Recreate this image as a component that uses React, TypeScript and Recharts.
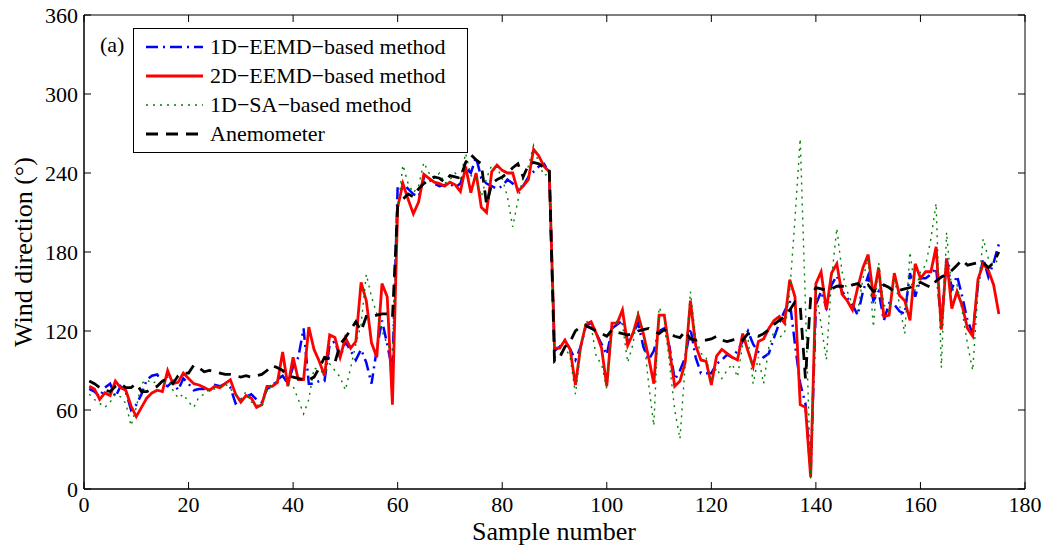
import { LineChart, Line, XAxis, YAxis, Legend, Label, ReferenceArea } from "recharts";

// sample index 1..175
const samples = Array.from({ length: 175 }, (_, i) => i + 1);

const eemd1d = [
  76, 74, 70, 77, 80, 70, 78, 74, 60, 64,
  72, 83, 86, 87, 80, 78, 82, 75, 84, 80,
  75, 76, 76, 75, 79, 78, 80, 77, 65, 68,
  70, 72, 68, 66, 76, 78, 83, 86, 80, 93,
  100, 122, 80, 80, 82, 82, 110, 112, 100, 112,
  105, 98, 106, 96, 80, 106, 128, 110, 90, 230,
  232, 228, 224, 222, 236, 235, 232, 230, 231, 232,
  229, 232, 244, 240, 252, 236, 232, 230, 228, 230,
  235, 232, 228, 230, 237, 241, 245, 247, 240, 105,
  108, 113, 106, 98, 108, 124, 126, 118, 110, 102,
  122, 125, 128, 113, 118, 126, 108, 98, 105, 120,
  122, 108, 83, 90, 100, 122, 100, 88, 88, 88,
  95, 98, 102, 100, 105, 112, 120, 110, 104, 100,
  103, 115, 126, 135, 143, 110, 80, 65, 12, 140,
  150, 138, 155, 162, 150, 145, 140, 132, 150, 162,
  143, 150, 128, 141, 140, 135, 133, 164, 146, 160,
  160, 163, 168, 125, 175, 152, 162, 146, 128, 118,
  155, 175, 161, 172, 186,
];

const eemd2d = [
  78, 76, 68, 73, 71, 82, 77, 75, 63, 55,
  62, 69, 73, 75, 74, 90, 80, 81, 88, 84,
  80, 79, 77, 75, 78, 77, 80, 83, 72, 66,
  71, 69, 62, 64, 78, 78, 81, 104, 78, 100,
  83, 83, 123, 106, 97, 86, 117, 115, 100, 115,
  107, 112, 157, 143, 111, 100, 156, 146, 64, 214,
  232, 220, 209, 218, 239, 236, 233, 232, 230, 233,
  231, 226, 245, 225, 240, 214, 210, 241, 246, 242,
  240, 240, 226, 230, 235, 258, 253, 245, 241, 107,
  107, 113, 106, 79, 108, 125, 127, 118, 107, 78,
  126, 126, 136, 109, 118, 132, 118, 100, 80, 132,
  132, 105, 78, 82, 96, 143, 109, 98, 97, 79,
  101, 106, 103, 100, 98, 118, 105, 93, 112, 114,
  122, 128, 131, 126, 159, 146, 64, 62, 9, 156,
  165, 136, 164, 171, 148, 143, 136, 153, 168, 178,
  146, 168, 131, 132, 164, 147, 143, 128, 171, 160,
  165, 165, 184, 121, 175, 137, 150, 139, 122, 116,
  159, 171, 166, 155, 133,
];

const sa1d = [
  72, 68, 65, 62, 66, 72, 70, 65, 48, 62,
  80, 83, 80, 82, 78, 85, 75, 69, 72, 66,
  62, 70, 72, 76, 76, 78, 80, 76, 72, 68,
  74, 66, 64, 62, 75, 80, 82, 90, 80, 78,
  68, 57, 68, 92, 90, 88, 95, 90, 85, 75,
  92, 110, 125, 163, 146, 133, 120, 110, 105, 212,
  246, 232, 225, 230, 248, 240, 236, 240, 232, 235,
  240, 236, 255, 238, 237, 222, 236, 246, 244, 236,
  222, 199, 219, 237, 245, 261, 247, 238, 240, 100,
  102, 108, 100, 72, 105, 128, 124, 100, 95, 76,
  120, 128, 125, 96, 110, 135, 118, 80, 48, 138,
  130, 95, 60, 38, 95, 150, 115, 103, 100, 82,
  92, 84, 90, 95, 85, 110, 115, 80, 100, 80,
  108, 120, 115, 118, 150, 205, 266, 140, 8, 150,
  125, 98, 160, 198, 165, 150, 140, 135, 160, 175,
  123, 172, 140, 135, 160, 140, 118, 180, 150, 165,
  170, 190, 217, 92, 195, 150, 155, 135, 110, 90,
  150, 190, 175, 170, 175,
];

const anemometer = [
  82, 80, 77, 75, 74, 78, 80, 77, 77, 80,
  74, 74, 76, 78, 82, 84, 80, 86, 88, 88,
  94, 92, 89, 90, 89, 88, 87, 87, 86, 85,
  86, 85, 86, 87, 90, 94, 92, 90, 86, 85,
  84, 83, 83, 85, 92, 100, 99, 96, 110, 115,
  121, 127, 120, 131, 131, 132, 133, 133, 130, 215,
  220, 224, 222, 228, 232, 235, 237, 236, 233, 238,
  237, 236, 248, 254, 250, 247, 216, 232, 235, 237,
  240, 244, 247, 237, 246, 248, 247, 244, 243, 97,
  100, 108, 112, 120, 123, 124, 122, 120, 118, 116,
  121, 119, 118, 117, 118, 120, 121, 122, 120, 118,
  121, 118, 116, 115, 120, 114, 113, 113, 113, 114,
  116, 113, 112, 113, 115, 113, 118, 117, 116, 118,
  121, 125, 128, 131, 136, 142, 139, 84, 145, 153,
  152, 151, 152, 154, 154, 153, 155, 156, 152, 155,
  150, 152, 155, 153, 150, 151, 152, 153, 155, 157,
  155, 153, 158, 161, 163, 166, 170, 174, 170, 171,
  172, 172, 168, 172, 180,
];

const xTicks = [0, 20, 40, 60, 80, 100, 120, 140, 160, 180];
const yTicks = [0, 60, 120, 180, 240, 300, 360];

const data = samples.map((s, i) => ({
  s,
  eemd1d: eemd1d[i],
  eemd2d: eemd2d[i],
  sa1d: sa1d[i],
  anemometer: anemometer[i],
}));

const FONT = '"Times New Roman", "Liberation Serif", serif';

// plot box edges in px (matlab style box, ticks drawn inward)
const LEFT = 84;
const RIGHT = 1025;
const TOP = 15;
const BOTTOM = 489;
const TICK = 7;

const series = [
  { key: "eemd1d", name: "1D\u2212EEMD\u2212based method", color: "#0000ff", dash: "12 5 2 5", width: 2.5 },
  { key: "eemd2d", name: "2D\u2212EEMD\u2212based method", color: "#ff0000", dash: undefined, width: 2.8 },
  { key: "sa1d", name: "1D\u2212SA\u2212based method", color: "#008000", dash: "2 5", width: 1.4 },
  { key: "anemometer", name: "Anemometer", color: "#000000", dash: "12 8", width: 2.8 },
];

const XTick = ({ x, y, payload }: any) => (
  <g>
    <line x1={x} x2={x} y1={BOTTOM} y2={BOTTOM - TICK} stroke="#000" strokeWidth={1} />
    <line x1={x} x2={x} y1={TOP} y2={TOP + TICK} stroke="#000" strokeWidth={1} />
    <text x={x} y={y} dy="0.71em" textAnchor="middle" fontFamily={FONT} fontSize={22} fill="#000">
      {payload.value}
    </text>
  </g>
);

const YTick = ({ x, y, payload }: any) => (
  <g>
    <line x1={LEFT} x2={LEFT + TICK} y1={y} y2={y} stroke="#000" strokeWidth={1} />
    <line x1={RIGHT} x2={RIGHT - TICK} y1={y} y2={y} stroke="#000" strokeWidth={1} />
    <text x={x} y={y} dy="0.355em" textAnchor="end" fontFamily={FONT} fontSize={22} fill="#000">
      {payload.value}
    </text>
  </g>
);

const LegendBox = () => (
  <svg width={336} height={126} style={{ display: "block" }}>
    <rect x={0.5} y={0.5} width={334} height={124} fill="#fff" stroke="#000" strokeWidth={1} />
    {series.map((d, i) => {
      const y = 19 + i * 29;
      return (
        <g key={d.key}>
          <line x1={13} x2={70} y1={y} y2={y} stroke={d.color} strokeWidth={d.width} strokeDasharray={d.dash} />
          <text x={77} y={y + 7} fontFamily={FONT} fontSize={22} fill="#000">
            {d.name}
          </text>
        </g>
      );
    })}
  </svg>
);

export default function App() {
  return (
    <div style={{ position: "absolute", left: 0, top: 0, background: "#fff" }}>
      <LineChart width={1055} height={556} data={data} margin={{ top: TOP, right: 1055 - RIGHT, bottom: 0, left: 0 }}>
        <XAxis
          dataKey="s"
          type="number"
          domain={[0, 180]}
          ticks={xTicks}
          height={556 - BOTTOM}
          tickSize={0}
          tickMargin={7}
          tickLine={false}
          stroke="#000"
          tick={<XTick />}
        >
          <Label
            content={() => (
              <text x={554} y={540} textAnchor="middle" fontFamily={FONT} fontSize={26} fill="#000">
                Sample number
              </text>
            )}
          />
        </XAxis>
        <YAxis
          type="number"
          domain={[0, 360]}
          ticks={yTicks}
          width={LEFT}
          tickSize={0}
          tickMargin={6}
          tickLine={false}
          stroke="#000"
          tick={<YTick />}
        >
          <Label
            content={() => (
              <text
                x={32}
                y={252}
                transform="rotate(-90 32 252)"
                textAnchor="middle"
                fontFamily={FONT}
                fontSize={26}
                fill="#000"
              >
                Wind direction (°)
              </text>
            )}
          />
          <Label
            content={() => (
              <text x={100} y={52} fontFamily={FONT} fontSize={22} fill="#000">
                (a)
              </text>
            )}
          />
        </YAxis>
        <ReferenceArea x1={0} x2={180} y1={0} y2={360} fill="none" fillOpacity={0} stroke="#000" strokeWidth={1} />
        <Legend
          layout="vertical"
          align="center"
          verticalAlign="middle"
          wrapperStyle={{ left: 133, top: 28, width: 336, height: 126 }}
          content={() => <LegendBox />}
        />
        {series.map((d) => (
          <Line
            key={d.key}
            dataKey={d.key}
            name={d.name}
            type="linear"
            stroke={d.color}
            strokeWidth={d.width}
            strokeDasharray={d.dash}
            dot={false}
            activeDot={false}
            isAnimationActive={false}
          />
        ))}
      </LineChart>
    </div>
  );
}
